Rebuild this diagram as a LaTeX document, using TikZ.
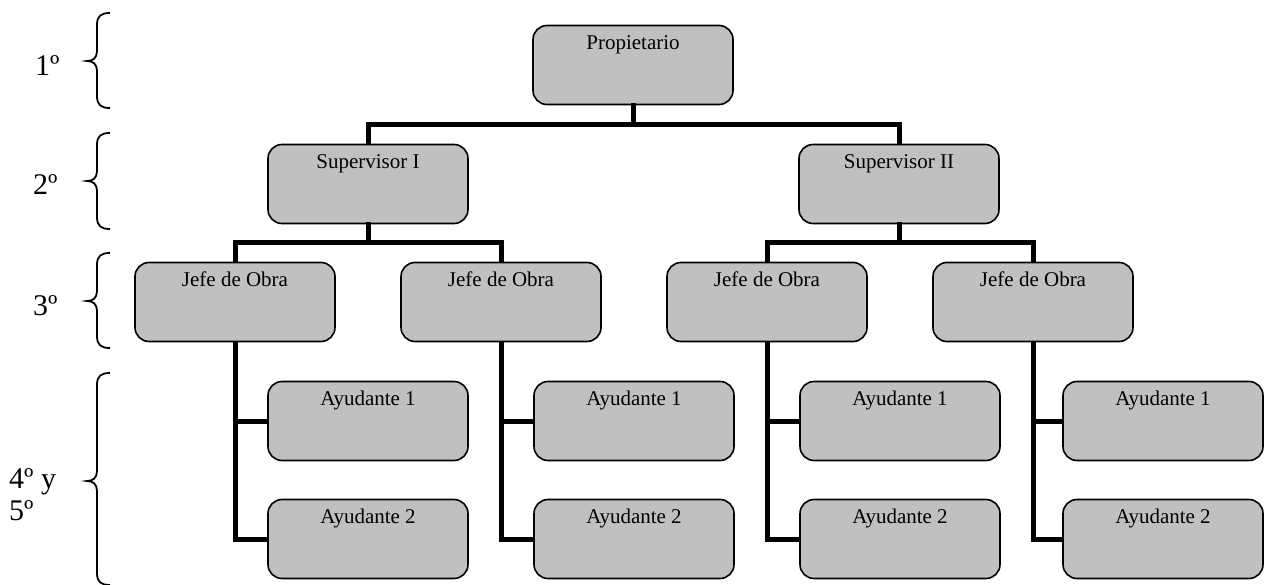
\documentclass[tikz,border=0pt]{standalone}
\usepackage{fontspec}
\setmainfont{Liberation Serif}
\begin{document}
\begin{tikzpicture}[x=1pt,y=-1pt,
  orgbox/.style={draw=black, line width=1.6pt, fill=boxgray, rounded corners=14pt,
    minimum width=200pt, inner xsep=2pt, inner ysep=0pt,
    text height=24pt, text depth=55pt,
    font=\fontsize{21}{25}\selectfont},
  conn/.style={line width=5pt, line cap=rect},
  lvl/.style={anchor=base west, inner sep=0pt, align=left,
    font=\fontsize{30}{32}\selectfont},
  bracestroke/.style={line width=1.8pt}]
\definecolor{boxgray}{RGB}{192,192,192}
\useasboundingbox (0,0) rectangle (1264,585);

% level labels with their braces
\newcommand\levelbrace[3]{% brace given by top, middle and bottom
  \draw[bracestroke] (110,#1) .. controls (101,#1) and (97,#1+3) .. (97,#1+12)
    -- (97,#2-10) .. controls (97,#2-3) and (93,#2) .. (87,#2)
    .. controls (93,#2) and (97,#2+3) .. (97,#2+10)
    -- (97,#3-12) .. controls (97,#3-3) and (101,#3) .. (110,#3);}
\levelbrace{13}{61}{108}
\levelbrace{133}{181}{229}
\levelbrace{253}{301}{348}
\levelbrace{373}{481}{585}
\node[lvl] (l1) at (35,76) {1º};
\node[lvl] (l2) at (33,195) {2º};
\node[lvl] (l3) at (33,316) {3º};
\node[lvl] (l4) at (9,520) {4º y\\[0pt]5º};

% boxes
\node[orgbox] (P)  at (633,65)  {Propietario};
\node[orgbox] (S1) at (368,184) {Supervisor I};
\node[orgbox] (S2) at (899,184) {Supervisor II};
\node[orgbox] (J1) at (235,302) {Jefe de Obra};
\node[orgbox] (J2) at (501,302) {Jefe de Obra};
\node[orgbox] (J3) at (767,302) {Jefe de Obra};
\node[orgbox] (J4) at (1033,302) {Jefe de Obra};
\node[orgbox] (A11) at (368,421) {Ayudante 1};
\node[orgbox] (A21) at (368,539) {Ayudante 2};
\node[orgbox] (A12) at (634,421) {Ayudante 1};
\node[orgbox] (A22) at (634,539) {Ayudante 2};
\node[orgbox] (A13) at (900,421) {Ayudante 1};
\node[orgbox] (A23) at (900,539) {Ayudante 2};
\node[orgbox] (A14) at (1163,421) {Ayudante 1};
\node[orgbox] (A24) at (1163,539) {Ayudante 2};

% bus lines
\coordinate (bus1) at (0,125);
\coordinate (bus2) at (0,243);

\draw[conn] (P.south) -- (P.south |- bus1);
\draw[conn, line cap=butt] (S1.north) -- (S1.north |- bus1) -| (S2.north);
\draw[conn] (S1.south) -- (S1.south |- bus2);
\draw[conn, line cap=butt] (J1.north) -- (J1.north |- bus2) -| (J2.north);
\draw[conn] (S2.south) -- (S2.south |- bus2);
\draw[conn, line cap=butt] (J3.north) -- (J3.north |- bus2) -| (J4.north);
\foreach \j/\a/\b in {J1/A11/A21, J2/A12/A22, J3/A13/A23, J4/A14/A24}{
  \draw[conn, line cap=butt] (\j.south) |- (\b.west);
  \draw[conn, line cap=butt] (\j.south |- \a.west) -- (\a.west);
}
\end{tikzpicture}
\end{document}
